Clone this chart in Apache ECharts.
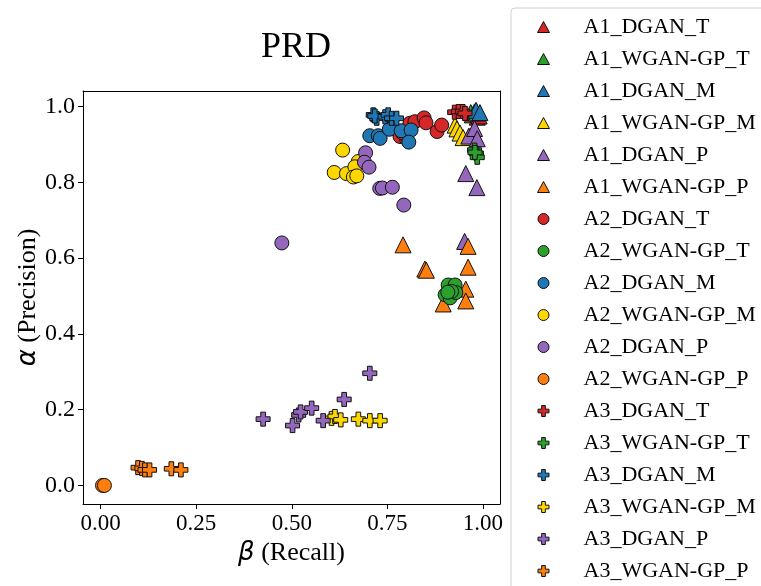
<!DOCTYPE html>
<html>
<head>
<meta charset="utf-8">
<script src="https://cdn.jsdelivr.net/npm/echarts@6/dist/echarts.min.js"></script>
<style>
  html, body { margin: 0; padding: 0; background: #fff; }
  #main { width: 761px; height: 586px; }
</style>
</head>
<body>
<div id="main"></div>
<script>
// series names, in legend order
var names = ['A1_DGAN_T', 'A1_WGAN-GP_T', 'A1_DGAN_M', 'A1_WGAN-GP_M', 'A1_DGAN_P', 'A1_WGAN-GP_P',
             'A2_DGAN_T', 'A2_WGAN-GP_T', 'A2_DGAN_M', 'A2_WGAN-GP_M', 'A2_DGAN_P', 'A2_WGAN-GP_P',
             'A3_DGAN_T', 'A3_WGAN-GP_T', 'A3_DGAN_M', 'A3_WGAN-GP_M', 'A3_DGAN_P', 'A3_WGAN-GP_P'];

// [recall, precision] pairs
var a1DganT = [[0.972, 0.978], [0.985, 0.972], [0.990, 0.975]];
var a1WganT = [[0.968, 0.984], [0.978, 0.986], [0.983, 0.983]];
var a1DganM = [[0.982, 0.990], [0.992, 0.984]];
var a1WganM = [[0.927, 0.951], [0.932, 0.941], [0.940, 0.930], [0.948, 0.918]];
var a1DganP = [[0.963, 0.922], [0.978, 0.942], [0.985, 0.915], [0.955, 0.823], [0.984, 0.786], [0.952, 0.644]];
var a1WganP = [[0.791, 0.635], [0.848, 0.571], [0.852, 0.568], [0.961, 0.631], [0.961, 0.576], [0.955, 0.518], [0.955, 0.487], [0.896, 0.479]];
var a2DganT = [[0.783, 0.921], [0.800, 0.915], [0.790, 0.930], [0.809, 0.956], [0.822, 0.960], [0.846, 0.970], [0.851, 0.957], [0.880, 0.934], [0.892, 0.951]];
var a2WganT = [[0.909, 0.529], [0.927, 0.529], [0.901, 0.503], [0.914, 0.495], [0.929, 0.509], [0.918, 0.512], [0.908, 0.510]];
var a2DganM = [[0.704, 0.923], [0.726, 0.923], [0.731, 0.916], [0.755, 0.940], [0.786, 0.936], [0.812, 0.938], [0.806, 0.906]];
var a2WganM = [[0.611, 0.826], [0.633, 0.885], [0.643, 0.823], [0.674, 0.855], [0.665, 0.841], [0.661, 0.814], [0.670, 0.817]];
var a2DganP = [[0.693, 0.878], [0.690, 0.853], [0.702, 0.840], [0.730, 0.784], [0.737, 0.785], [0.763, 0.787], [0.793, 0.740], [0.474, 0.640]];
var a2WganP = [[0.005, 0.000], [0.010, 0.000]];
var a3DganT = [[0.926, 0.985], [0.936, 0.987], [0.947, 0.987], [0.953, 0.982]];
var a3WganT = [[0.978, 0.885], [0.983, 0.876], [0.985, 0.866], [0.979, 0.879]];
var a3DganM = [[0.713, 0.978], [0.722, 0.969], [0.717, 0.975], [0.744, 0.973], [0.752, 0.978], [0.761, 0.969], [0.774, 0.969]];
var a3WganM = [[0.604, 0.177], [0.613, 0.182], [0.628, 0.173], [0.674, 0.175], [0.704, 0.171], [0.731, 0.171]];
var a3DganP = [[0.425, 0.175], [0.502, 0.158], [0.518, 0.186], [0.523, 0.194], [0.552, 0.204], [0.582, 0.171], [0.637, 0.227], [0.704, 0.296]];
var a3WganP = [[0.098, 0.047], [0.108, 0.045], [0.116, 0.041], [0.128, 0.041], [0.185, 0.044], [0.210, 0.041]];

var allData = [a1DganT, a1WganT, a1DganM, a1WganM, a1DganP, a1WganP,
               a2DganT, a2WganT, a2DganM, a2WganM, a2DganP, a2WganP,
               a3DganT, a3WganT, a3DganM, a3WganM, a3DganP, a3WganP];

// tick labels
var xTicks = [0, 0.25, 0.5, 0.75, 1.0];
var yTicks = [0, 0.2, 0.4, 0.6, 0.8, 1.0];

// style
var colors = ['#d62728', '#2ca02c', '#1f77b4', '#ffd700', '#9467bd', '#ff7f0e'];
var plusPath = 'path://M1,0H2V1H3V2H2V3H1V2H0V1H1Z';
var shapes = ['triangle', 'circle', plusPath];
var sizes = [16, 14, 14];
var serif = '"Liberation Serif", "DejaVu Serif", serif';

var myChart = echarts.init(document.getElementById('main'));

var series = [];
var legendData = [];
for (var i = 0; i < names.length; i++) {
    var g = Math.floor(i / 6);
    series.push({
        name: names[i],
        type: 'scatter',
        symbol: shapes[g],
        symbolSize: sizes[g],
        itemStyle: {
            color: colors[i % 6],
            borderColor: '#111',
            borderWidth: 1,
            opacity: 1
        },
        emphasis: { disabled: true },
        data: allData[i]
    });
    legendData.push({
        name: names[i],
        icon: shapes[g],
        itemStyle: { color: colors[i % 6], borderColor: '#111', borderWidth: 1 }
    });
}

var nameStyle = {
    fontFamily: serif, fontSize: 26, color: '#000',
    rich: { g: { fontFamily: '"DejaVu Sans"', fontStyle: 'italic', fontSize: 26, color: '#000' } }
};

var option = {
    animation: false,
    backgroundColor: '#fff',
    title: {
        text: 'PRD',
        left: 291,
        textAlign: 'center',
        top: 25,
        textStyle: { fontFamily: serif, fontSize: 36, fontWeight: 'normal', color: '#000' }
    },
    legend: {
        orient: 'vertical',
        left: 511,
        top: 8,
        height: 660,
        padding: [8, 10, 14, 26],
        itemGap: 10,
        itemWidth: 12,
        itemHeight: 11,
        borderColor: '#d0d0d0',
        borderWidth: 1,
        borderRadius: 4,
        textStyle: { fontFamily: serif, fontSize: 22, color: '#000', padding: [0, 0, 0, 29] },
        data: legendData
    },
    grid: {
        left: 83,
        top: 91,
        right: 261,
        bottom: 82
    },
    xAxis: [{
        type: 'value',
        min: -0.046,
        max: 1.0445,
        name: '{g|β} (Recall)',
        nameLocation: 'middle',
        nameGap: 36,
        nameTextStyle: nameStyle,
        axisLine: { show: true, onZero: false, lineStyle: { color: '#000', width: 1 } },
        axisTick: { show: true, length: 5, lineStyle: { color: '#000' }, customValues: xTicks },
        axisLabel: {
            fontFamily: serif, fontSize: 23, color: '#000', margin: 8,
            customValues: xTicks,
            formatter: function (v) { return v.toFixed(2); }
        },
        splitLine: { show: false }
    }, {
        type: 'value',
        position: 'top',
        min: -0.046,
        max: 1.0445,
        axisLine: { show: true, onZero: false, lineStyle: { color: '#000', width: 1 } },
        axisTick: { show: false },
        axisLabel: { show: false },
        splitLine: { show: false }
    }],
    yAxis: [{
        type: 'value',
        min: -0.049,
        max: 1.041,
        name: '{g|α} (Precision)',
        nameLocation: 'middle',
        nameRotate: 90,
        nameGap: 42,
        nameMoveOverlap: false,
        nameTextStyle: nameStyle,
        axisLine: { show: true, onZero: false, lineStyle: { color: '#000', width: 1 } },
        axisTick: { show: true, length: 5, lineStyle: { color: '#000' }, customValues: yTicks },
        axisLabel: {
            fontFamily: serif, fontSize: 24, color: '#000', margin: 8,
            customValues: yTicks,
            formatter: function (v) { return v.toFixed(1); }
        },
        splitLine: { show: false }
    }, {
        type: 'value',
        position: 'right',
        min: -0.049,
        max: 1.041,
        axisLine: { show: true, onZero: false, lineStyle: { color: '#000', width: 1 } },
        axisTick: { show: false },
        axisLabel: { show: false },
        splitLine: { show: false }
    }],
    series: series
};

myChart.setOption(option);
</script>
</body>
</html>
